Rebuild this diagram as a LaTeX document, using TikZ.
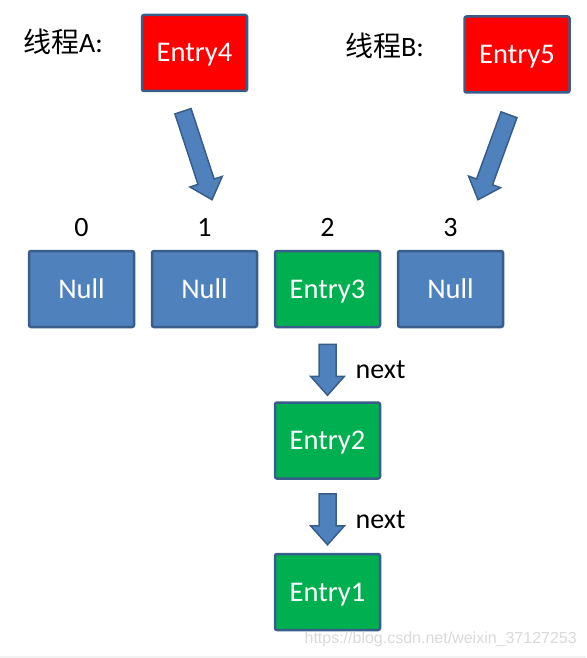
\documentclass[tikz,border=0pt]{standalone}
\usepackage{fontspec}
\setmainfont{Carlito}
\newfontfamily\cjk{Noto Sans CJK SC}
\newfontfamily\markfont{Liberation Sans}
\usepackage{tikz}
\usetikzlibrary{positioning,calc}

\definecolor{nullblue}{HTML}{4F81BD}
\definecolor{edgeblue}{HTML}{385D8A}
\definecolor{entrygreen}{HTML}{00B050}
\definecolor{newred}{HTML}{FF0000}

% block arrow from #1 to its tip #2
\newcommand{\fatarrow}[2]{%
  \coordinate (hb) at ($(#2)!19pt!(#1)$);
  \draw[fat] ($(#1)!8.5pt!90:(#2)$) -- ($(hb)!8.5pt!90:(#2)$) -- ($(hb)!17pt!90:(#2)$) -- (#2)
    -- ($(hb)!17pt!-90:(#2)$) -- ($(hb)!8.5pt!-90:(#2)$) -- ($(#1)!8.5pt!-90:(#2)$) -- cycle;
}

\begin{document}
\begin{tikzpicture}[x=1pt,y=-1pt,
  cell/.style={draw=edgeblue, line width=2.5pt, rounded corners=2pt, minimum width=105pt, minimum height=76pt, inner sep=0pt, text=white, text height=18pt, text depth=0pt, font=\fontsize{28.5}{30}\selectfont},
  nullcell/.style={cell, fill=nullblue},
  entrycell/.style={cell, fill=entrygreen},
  newcell/.style={cell, fill=newred},
  word/.style={inner sep=0pt, font=\fontsize{28}{30}\selectfont},
  fat/.style={fill=nullblue, draw=edgeblue, line width=1.5pt, line join=miter},
  node distance=15.5pt]
\useasboundingbox (0,0) rectangle (586,658);
\fill[gray!10] (0,656) rectangle (586,658); % bottom strip

\node[word, anchor=west] (ta) at (23,42) {{\cjk 线程}A:}; % thread A
\node[word, anchor=west] (tb) at (345,46) {{\cjk 线程}B:}; % thread B
\node[newcell] (e4) at (194.5,53) {Entry4};
\node[newcell] (e5) at (517,54.5) {Entry5};

\node[nullcell] (b0) at (81.5,289) {Null}; % table row
\node[nullcell, right=of b0] (b1) {Null};
\node[entrycell, right=of b1] (b2) {Entry3};
\node[nullcell, right=of b2] (b3) {Null};
\foreach \i in {0,...,3}
\node[word, above=13pt of b\i] (l\i) {\i};

\node[entrycell, below=73pt of b2] (e2) {Entry2}; % chain
\node[entrycell, below=73pt of e2] (e1) {Entry1};

\coordinate (as) at ([xshift=-11.5pt,yshift=-19pt]e4.south); % arrow A
\coordinate (at) at ([xshift=7.5pt,yshift=50pt]b1.north);
\coordinate (bs) at ([xshift=-8pt,yshift=-21pt]e5.south); % arrow B
\coordinate (bt) at ([xshift=27.5pt,yshift=50pt]b3.north);
\coordinate (s1) at ([yshift=-16pt]b2.south); % next arrows
\coordinate (t1) at ([yshift=6pt]e2.north);
\coordinate (s2) at ([yshift=-14pt]e2.south);
\coordinate (t2) at ([yshift=8pt]e1.north);
\fatarrow{as}{at}
\fatarrow{bs}{bt}
\fatarrow{s1}{t1}
\fatarrow{s2}{t2}
\node[word, anchor=west] (x1) at ($(s1)!0.5!(t1)+(28pt,0pt)$) {next};
\node[word, anchor=west] (x2) at ($(s2)!0.5!(t2)+(28pt,0pt)$) {next};

\node[inner sep=0pt, anchor=east, text=gray!30, font=\markfont\fontsize{16}{18}\selectfont] (wm) at (577,639) {https://blog.csdn.net/weixin\_37127253};
\end{tikzpicture}
\end{document}
